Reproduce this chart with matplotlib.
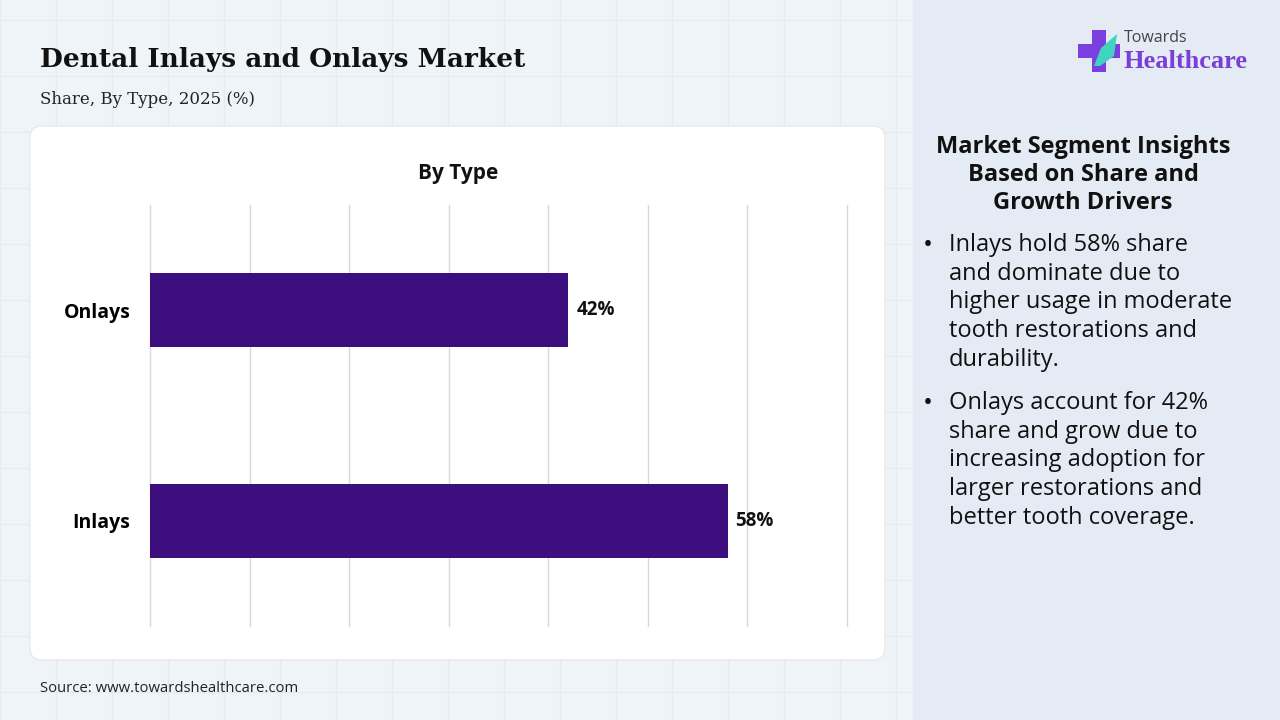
import matplotlib.pyplot as plt
from matplotlib.patches import FancyBboxPatch, Rectangle, Polygon

## Chart data
categories = ["Inlays", "Onlays"]
shares = [58, 42]
bar_labels = ["58%", "42%"]

title = "Dental Inlays and Onlays Market"
subtitle = "Share, By Type, 2025 (%)"
panel_title = "Market Segment Insights\nBased on Share and\nGrowth Drivers"
bullets = [
    "Inlays hold 58% share\nand dominate due to\nhigher usage in moderate\ntooth restorations and\ndurability.",
    "Onlays account for 42%\nshare and grow due to\nincreasing adoption for\nlarger restorations and\nbetter tooth coverage.",
]
source = "Source: www.towardshealthcare.com"

barColor = "#3d0e7e"

fig = plt.figure(figsize=(12.8, 7.2), dpi=100)
fig.patch.set_facecolor("#eef4f8")

# Faint background grid on the left part
bg = fig.add_axes([0, 0, 1, 1], zorder=-5)
bg.set_xlim(0, 1280)
bg.set_ylim(720, 0)
bg.axis("off")
for gx in range(0, 913, 56):
    bg.plot([gx, gx], [0, 720], color="#e4ebf1", lw=1, zorder=0)
for gy in range(20, 720, 56):
    bg.plot([0, 913], [gy, gy], color="#e4ebf1", lw=1, zorder=0)

# Right insight panel
bg.add_patch(Rectangle((913, 0), 367, 720, facecolor="#e5ebf4", edgecolor="none", zorder=2))

# White card behind the chart
bg.add_patch(FancyBboxPatch((30, 126), 855, 534, boxstyle="round,pad=0,rounding_size=12",
                            facecolor="white", edgecolor="#e6e9ee", lw=1, zorder=2))

# Logo: plus sign and text
bg.add_patch(Polygon([(1092, 30), (1106, 30), (1106, 44), (1120, 44), (1120, 58), (1106, 58),
                      (1106, 72), (1092, 72), (1092, 58), (1078, 58), (1078, 44), (1092, 44)],
                     closed=True, facecolor="#7b3fe0", edgecolor="none", zorder=3))
bg.add_patch(Polygon([(1094, 66), (1101, 48), (1117, 34), (1114, 56), (1100, 66)],
                     closed=True, facecolor="#3fd3c0", edgecolor="none", zorder=4))
fig.text(1124 / 1280, 1 - 38 / 720, "Towards", fontsize=11.5, color="#444444",
         family="Open Sans", va="center")
fig.text(1123 / 1280, 1 - 62 / 720, "Healthcare", fontsize=19, color="#7a3fd6",
         family="Liberation Serif", fontweight="bold", va="center")

# Titles
fig.text(40 / 1280, 1 - 60 / 720, title, fontsize=19, fontweight="bold",
         family="DejaVu Serif", color="#111111", va="center")
fig.text(40 / 1280, 1 - 99 / 720, subtitle, fontsize=12,
         family="DejaVu Serif", color="#222222", va="center")

# Bar chart
ax = fig.add_axes([150 / 1280, 1 - 626 / 720, 697 / 1280, 421 / 720])
ax.set_facecolor("none")
ax.barh(categories, shares, height=0.35, color=barColor, zorder=3)
ax.set_xlim(0, 70)
ax.set_ylim(-0.5, 1.5)
ax.set_xticks(range(0, 71, 10))
ax.xaxis.grid(True, color="#d9d9d9", lw=1)
for gl in ax.get_xgridlines():
    gl.set_clip_on(False)
ax.tick_params(axis="x", length=0, labelbottom=False)
ax.tick_params(axis="y", length=0, pad=14, labelsize=14)
for lab in ax.get_yticklabels():
    lab.set_fontweight("bold")
    lab.set_family("Open Sans")
for s in ax.spines.values():
    s.set_visible(False)
for i in range(len(categories)):
    ax.text(shares[i] + 0.8, i, bar_labels[i], va="center", ha="left",
            fontsize=13.5, fontweight="bold", family="Open Sans", color="#111111")

fig.text(458 / 1280, 1 - 173 / 720, "By Type", fontsize=15, fontweight="bold",
         family="Open Sans", ha="center", va="center", color="#111111")

# Right panel text
fig.text(1083 / 1280, 1 - 175 / 720, panel_title, fontsize=17, fontweight="bold",
         family="Open Sans", ha="center", va="center", linespacing=1.23, color="#111111")
bulletTops = [233, 391]
for i in range(len(bullets)):
    fig.text(923 / 1280, 1 - bulletTops[i] / 720, "\u2022", fontsize=19,
             family="Open Sans", va="top", color="#111111")
    fig.text(949 / 1280, 1 - bulletTops[i] / 720, bullets[i], fontsize=17,
             family="Open Sans", va="top", linespacing=1.26, color="#111111")

fig.text(40 / 1280, 1 - 689 / 720, source, fontsize=10.7, family="Open Sans",
         va="center", color="#222222")

plt.savefig("out.png", dpi=100, facecolor=fig.get_facecolor())
